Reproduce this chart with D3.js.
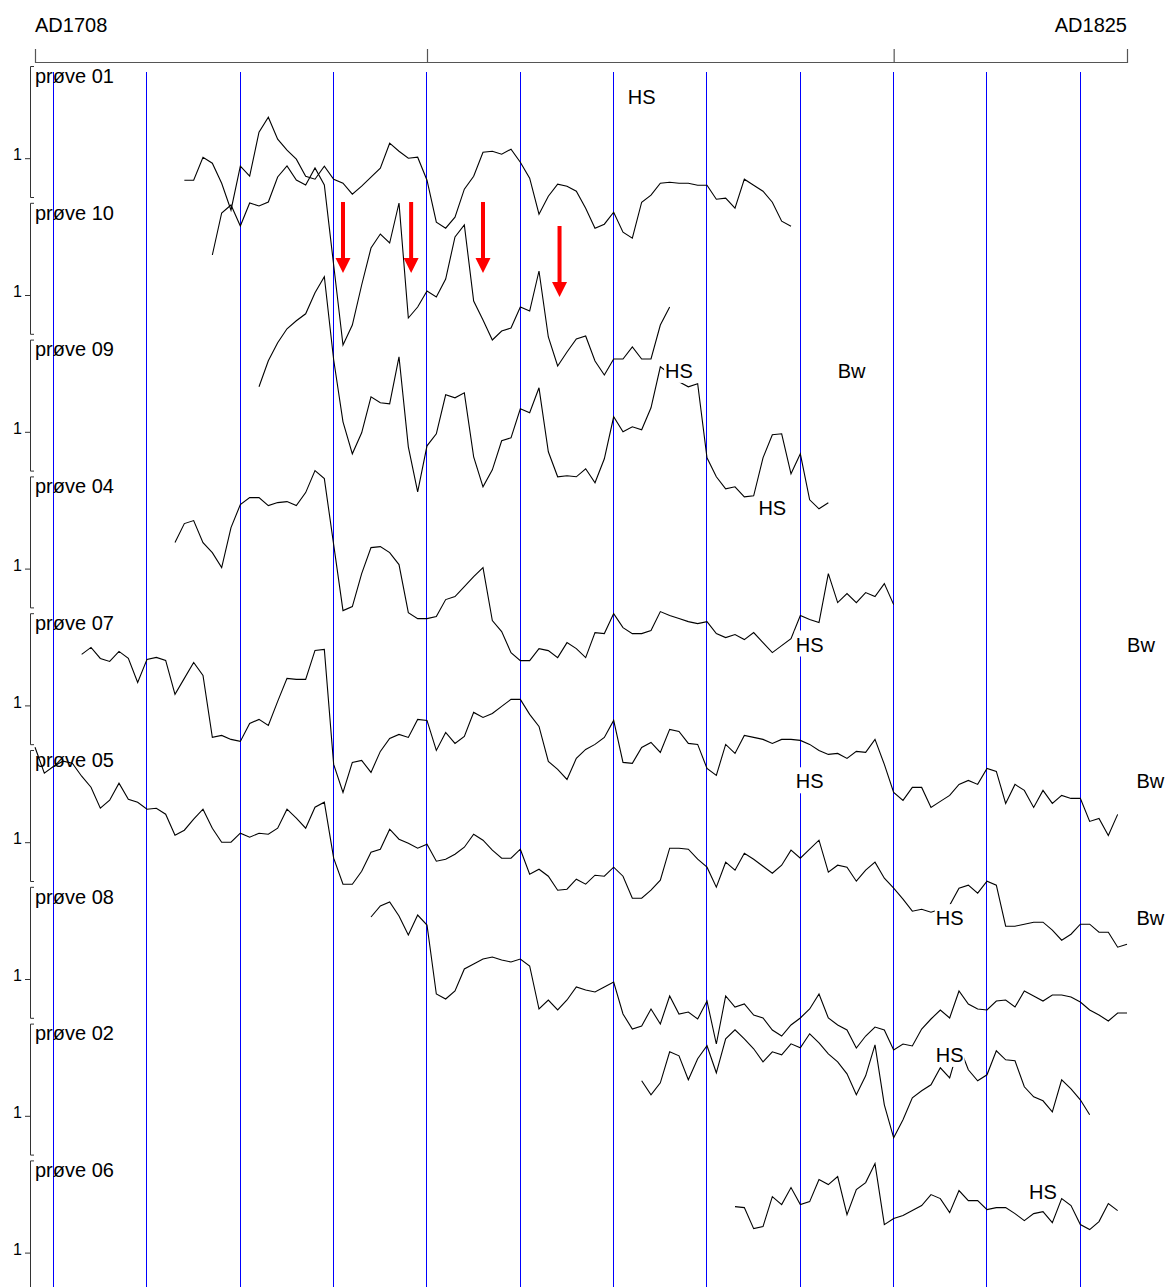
<!DOCTYPE html>
<html>
<head>
<meta charset="utf-8">
<script src="https://cdn.jsdelivr.net/npm/d3@7"></script>
<style>
  body { margin: 0; background: #fff; }
  svg { display: block; font-family: "Liberation Sans", Arial, sans-serif; }
</style>
</head>
<body>
<div id="chart"></div>
<script>
// samples, top to bottom, and the first year of each series
const samples = ["prøve 01", "prøve 10", "prøve 09", "prøve 04", "prøve 07", "prøve 05", "prøve 08", "prøve 02", "prøve 06"];
const firstYears = [1724, 1727, 1732, 1723, 1713, 1708, 1744, 1773, 1783];

// ring width index, one value per year (1 = panel base line)
const prove01 = [0.78, 0.78, 1.01, 0.95, 0.75, 0.48, 0.92, 0.82, 1.26, 1.41,
  1.19, 1.08, 0.99, 0.82, 0.79, 0.92, 0.79, 0.75, 0.64, 0.72,
  0.81, 0.90, 1.15, 1.07, 1.00, 1.01, 0.78, 0.36, 0.30, 0.41,
  0.69, 0.82, 1.06, 1.07, 1.04, 1.09, 0.96, 0.80, 0.44, 0.62,
  0.74, 0.72, 0.67, 0.50, 0.30, 0.34, 0.46, 0.26, 0.20, 0.56,
  0.63, 0.75, 0.76, 0.75, 0.75, 0.73, 0.73, 0.59, 0.60, 0.50,
  0.79, 0.73, 0.67, 0.56, 0.37, 0.32];
const prove10 = [1.40, 1.82, 1.90, 1.69, 1.92, 1.89, 1.93, 2.18, 2.29, 2.15,
  2.10, 2.27, 2.10, 1.30, 0.50, 0.70, 1.10, 1.47, 1.61, 1.52,
  1.92, 0.77, 0.88, 1.04, 0.98, 1.16, 1.58, 1.70, 0.94, 0.75,
  0.55, 0.64, 0.67, 0.88, 0.84, 1.24, 0.58, 0.29, 0.43, 0.56,
  0.59, 0.34, 0.20, 0.36, 0.36, 0.48, 0.36, 0.36, 0.70, 0.88];
const prove09 = [1.45, 1.71, 1.89, 2.03, 2.11, 2.18, 2.39, 2.55, 1.72, 1.10,
  0.78, 0.99, 1.35, 1.29, 1.28, 1.75, 0.85, 0.40, 0.86, 0.98,
  1.37, 1.34, 1.39, 0.75, 0.45, 0.62, 0.91, 0.94, 1.23, 1.19,
  1.44, 0.80, 0.55, 0.56, 0.55, 0.63, 0.49, 0.73, 1.15, 1.00,
  1.05, 1.02, 1.24, 1.65, 1.58, 1.50, 1.45, 1.48, 0.74, 0.55,
  0.43, 0.45, 0.35, 0.36, 0.74, 0.97, 0.98, 0.58, 0.78, 0.32,
  0.23, 0.29];
const prove04 = [1.26, 1.45, 1.48, 1.26, 1.16, 1.01, 1.41, 1.64, 1.71, 1.71,
  1.63, 1.66, 1.67, 1.63, 1.76, 1.98, 1.90, 1.24, 0.58, 0.62,
  0.95, 1.21, 1.22, 1.16, 1.04, 0.56, 0.50, 0.50, 0.52, 0.69,
  0.72, 0.82, 0.92, 1.01, 0.48, 0.37, 0.16, 0.08, 0.08, 0.20,
  0.18, 0.11, 0.26, 0.20, 0.11, 0.36, 0.35, 0.55, 0.41, 0.35,
  0.35, 0.38, 0.57, 0.53, 0.50, 0.47, 0.45, 0.47, 0.35, 0.31,
  0.34, 0.29, 0.36, 0.26, 0.16, 0.23, 0.30, 0.53, 0.49, 0.46,
  0.95, 0.66, 0.75, 0.66, 0.76, 0.72, 0.85, 0.64];
const prove07 = [1.51, 1.58, 1.47, 1.44, 1.54, 1.47, 1.23, 1.46, 1.48, 1.45,
  1.11, 1.27, 1.43, 1.30, 0.68, 0.70, 0.66, 0.64, 0.82, 0.86,
  0.80, 1.04, 1.27, 1.26, 1.26, 1.55, 1.56, 0.41, 0.13, 0.43,
  0.45, 0.33, 0.54, 0.67, 0.71, 0.68, 0.86, 0.85, 0.55, 0.73,
  0.62, 0.69, 0.93, 0.88, 0.92, 0.99, 1.06, 1.06, 0.91, 0.79,
  0.44, 0.36, 0.26, 0.47, 0.56, 0.61, 0.68, 0.85, 0.43, 0.42,
  0.58, 0.63, 0.53, 0.76, 0.74, 0.62, 0.61, 0.37, 0.30, 0.61,
  0.52, 0.70, 0.68, 0.66, 0.62, 0.66, 0.66, 0.65, 0.61, 0.55,
  0.51, 0.52, 0.47, 0.54, 0.53, 0.66, 0.41, 0.13, 0.05, 0.18,
  0.18, -0.02, 0.04, 0.10, 0.21, 0.25, 0.21, 0.37, 0.34, 0.02,
  0.21, 0.15, -0.02, 0.15, 0.02, 0.10, 0.07, 0.07, -0.16, -0.13,
  -0.30, -0.09];
const prove05 = [1.95, 1.69, 1.76, 1.81, 1.79, 1.66, 1.55, 1.34, 1.42, 1.59,
  1.43, 1.40, 1.33, 1.34, 1.28, 1.07, 1.12, 1.23, 1.33, 1.14,
  1.00, 1.00, 1.09, 1.05, 1.09, 1.08, 1.14, 1.33, 1.24, 1.14,
  1.35, 1.40, 0.84, 0.58, 0.58, 0.71, 0.90, 0.93, 1.13, 1.03,
  0.99, 0.94, 0.98, 0.81, 0.83, 0.88, 0.95, 1.08, 1.02, 0.92,
  0.84, 0.84, 0.93, 0.68, 0.73, 0.66, 0.52, 0.53, 0.63, 0.58,
  0.67, 0.66, 0.75, 0.66, 0.44, 0.44, 0.52, 0.62, 0.94, 0.94,
  0.93, 0.83, 0.75, 0.55, 0.80, 0.72, 0.89, 0.83, 0.76, 0.69,
  0.77, 0.92, 0.84, 0.93, 1.02, 0.70, 0.77, 0.75, 0.61, 0.72,
  0.80, 0.64, 0.54, 0.43, 0.31, 0.33, 0.30, 0.33, 0.37, 0.54,
  0.57, 0.49, 0.61, 0.57, 0.16, 0.16, 0.18, 0.20, 0.20, 0.12,
  0.02, 0.08, 0.18, 0.18, 0.10, 0.10, -0.05, -0.02];
const prove08 = [1.62, 1.73, 1.77, 1.63, 1.44, 1.64, 1.54, 0.85, 0.80, 0.88,
  1.10, 1.15, 1.20, 1.22, 1.19, 1.17, 1.20, 1.13, 0.70, 0.79,
  0.69, 0.79, 0.92, 0.89, 0.87, 0.92, 0.97, 0.65, 0.50, 0.53,
  0.70, 0.55, 0.83, 0.65, 0.67, 0.60, 0.78, 0.35, 0.83, 0.72,
  0.75, 0.64, 0.61, 0.49, 0.43, 0.54, 0.61, 0.70, 0.85, 0.61,
  0.54, 0.49, 0.31, 0.43, 0.52, 0.49, 0.29, 0.35, 0.33, 0.50,
  0.60, 0.69, 0.61, 0.88, 0.75, 0.70, 0.69, 0.78, 0.79, 0.72,
  0.88, 0.83, 0.78, 0.84, 0.84, 0.82, 0.77, 0.69, 0.64, 0.58,
  0.66, 0.66];
const prove02 = [1.35, 1.21, 1.33, 1.64, 1.60, 1.36, 1.57, 1.70, 1.43, 1.77,
  1.86, 1.77, 1.67, 1.54, 1.64, 1.61, 1.72, 1.68, 1.82, 1.73,
  1.62, 1.54, 1.42, 1.21, 1.40, 1.71, 1.11, 0.78, 0.96, 1.18,
  1.25, 1.31, 1.48, 1.38, 1.70, 1.46, 1.35, 1.41, 1.65, 1.56,
  1.55, 1.29, 1.19, 1.15, 1.04, 1.36, 1.27, 1.16, 1.01];
const prove06 = [1.46, 1.45, 1.24, 1.26, 1.56, 1.48, 1.65, 1.48, 1.51, 1.73,
  1.68, 1.76, 1.38, 1.63, 1.70, 1.89, 1.28, 1.34, 1.37, 1.42,
  1.47, 1.58, 1.54, 1.40, 1.62, 1.52, 1.52, 1.43, 1.45, 1.45,
  1.39, 1.32, 1.39, 1.41, 1.30, 1.54, 1.47, 1.28, 1.23, 1.31,
  1.49, 1.42];
const series = [prove01, prove10, prove09, prove04, prove07, prove05, prove08, prove02, prove06];

// heartwood/sapwood and bark edge marks (label centre year, null = none)
const hsYears = [1773, null, 1777, 1787, 1791, 1791, 1806, 1806, 1816];
const bwYears = [null, null, 1795.5, null, 1826.5, 1827.5, 1827.5, null, null];

// red arrows, drawn in the units of the second panel
const arrowYears = [1741, 1748.3, 1756, 1764.2];
const arrowFrom = [1.93, 1.93, 1.93, 1.69];
const arrowTo = [1.22, 1.22, 1.22, 0.98];

const startYear = 1708, endYear = 1825;
const axisTicks = [1750, 1800];
const gridYears = [1710, 1720, 1730, 1740, 1750, 1760, 1770, 1780, 1790, 1800, 1810, 1820];

const width = 1166, height = 1287;
const panelTop0 = 66, panelStep = 136.8, panelH = 131, baseOffset = 92.2;

const svg = d3.select("#chart").append("svg")
    .attr("width", width)
    .attr("height", height);

const x = d3.scaleLinear().domain([startYear, endYear]).range([35, 1127]);

// one index unit is 100px, the "1" line sits baseOffset below the panel top
function yScale(i) {
    const top = panelTop0 + i * panelStep;
    return d3.scaleLinear()
        .domain([1 - (panelH - baseOffset) / 100, 1 + baseOffset / 100])
        .range([top + panelH, top]);
}

// decade lines, snapped to a pixel column
const gx = d => Math.floor(x(d) - 0.3) + 0.5;
svg.append("g").selectAll("line")
    .data(gridYears)
    .join("line")
    .attr("x1", gx).attr("x2", gx)
    .attr("y1", 72).attr("y2", height)
    .attr("stroke", "#0000ff")
    .attr("stroke-width", 1);

// time axis on top
const topAxis = svg.append("g")
    .attr("transform", "translate(0,62)")
    .call(d3.axisTop(x).tickValues(axisTicks).tickSize(13).tickSizeOuter(13).tickFormat(() => ""));
topAxis.selectAll("path, line").attr("stroke", "#555").attr("stroke-width", 1.2);

svg.append("text").attr("x", 35).attr("y", 31.5).attr("font-size", 20).text("AD" + startYear);
svg.append("text").attr("x", 1127).attr("y", 31.5).attr("font-size", 20)
    .attr("text-anchor", "end").text("AD" + endYear);

const line = d3.line().x(d => x(d.year)).y(d => d.y);

const dataLayer = svg.append("g");
const labelLayer = svg.append("g");

samples.forEach((name, i) => {
    const y = yScale(i);
    const top = panelTop0 + i * panelStep;

    // bracket with the "1" tick
    const ax = svg.append("g")
        .attr("transform", "translate(30,0)")
        .call(d3.axisLeft(y).tickValues([1]).tickSize(5).tickSizeOuter(-4).tickPadding(3).tickFormat(d3.format("d")));
    ax.attr("font-family", null).attr("font-size", 16);
    ax.selectAll("path, line").attr("stroke", "#333");
    ax.selectAll("text").attr("fill", "#000").attr("dy", "0.1em");

    svg.append("text")
        .attr("x", 35).attr("y", top + 16.7)
        .attr("font-size", 20)
        .text(name);

    const pts = series[i].map((v, j) => ({ year: firstYears[i] + j, y: y(v) }));
    dataLayer.append("path")
        .datum(pts)
        .attr("d", line)
        .attr("fill", "none")
        .attr("stroke", "#000")
        .attr("stroke-width", 1.1)
        .attr("stroke-linejoin", "miter");

    if (hsYears[i] !== null) boxedLabel("HS", hsYears[i], top);
    if (bwYears[i] !== null) boxedLabel("Bw", bwYears[i], top);
});

function boxedLabel(txt, yr, top) {
    const t = labelLayer.append("text")
        .attr("x", x(yr)).attr("y", top + 38.3)
        .attr("text-anchor", "middle")
        .attr("font-size", 20)
        .text(txt);
    const b = t.node().getBBox();
    labelLayer.insert("rect", () => t.node())
        .attr("x", b.x - 1).attr("y", b.y - 3)
        .attr("width", b.width + 2).attr("height", b.height + 4)
        .attr("fill", "#fff");
}

// arrows
const ay = yScale(1);
svg.append("g").selectAll("path")
    .data(arrowYears)
    .join("path")
    .attr("d", (yr, i) => {
        const cx = x(yr), y0 = ay(arrowFrom[i]), y1 = ay(arrowTo[i]);
        const sw = 2, hw = 7.5, hl = 15;
        return `M${cx - sw},${y0}H${cx + sw}V${y1 - hl}H${cx + hw}L${cx},${y1}L${cx - hw},${y1 - hl}H${cx - sw}Z`;
    })
    .attr("fill", "#ff0000");
</script>
</body>
</html>
